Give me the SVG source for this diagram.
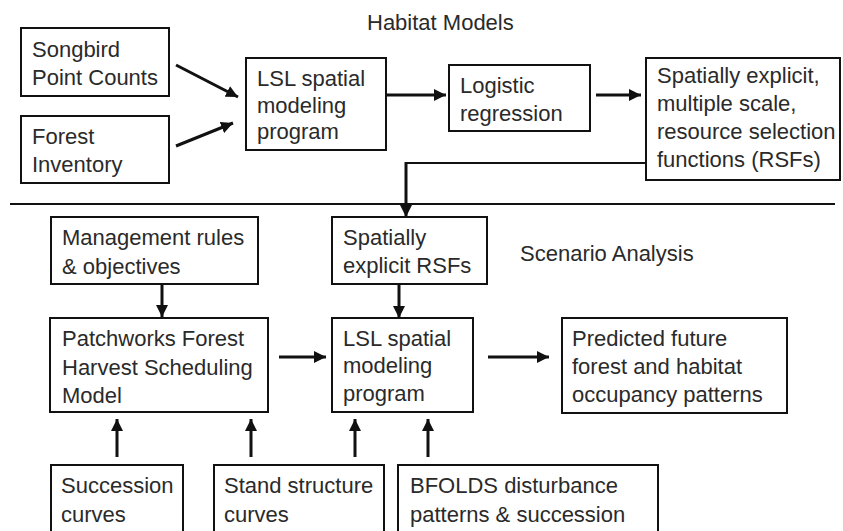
<svg xmlns="http://www.w3.org/2000/svg" width="843" height="531" viewBox="0 0 843 531">
<defs>
<style>
.box{fill:#fff;stroke:#111;stroke-width:2}
.t{font-family:"Liberation Sans",Arial,sans-serif;font-size:22px;fill:#2a2a2a}
.a{fill:none;stroke:#111;stroke-width:3;marker-end:url(#ah)}
.ln{fill:none;stroke:#111;stroke-width:1.8}
</style>
<marker id="ah" markerUnits="userSpaceOnUse" markerWidth="12" markerHeight="12" viewBox="0 0 12 12" refX="12" refY="6" orient="auto">
<path d="M0,0 L12,6 L0,12 Z" fill="#111"/>
</marker>
</defs>
<rect width="843" height="531" fill="#fff"/>
<text class="t" x="367" y="30">Habitat Models</text>
<text class="t" x="520" y="261">Scenario Analysis</text>
<line class="ln" x1="10" y1="204" x2="835" y2="204"/>
<g id="songbird"><rect class="box" x="21" y="28" width="148" height="68"/><text class="t" x="32" y="57">Songbird</text><text class="t" x="32" y="85">Point Counts</text></g>
<g id="forest"><rect class="box" x="21" y="116" width="148" height="67"/><text class="t" x="32" y="144">Forest</text><text class="t" x="32" y="172">Inventory</text></g>
<g id="lsl1"><rect class="box" x="246" y="58" width="140" height="92"/><text class="t" x="257" y="86">LSL spatial</text><text class="t" x="257" y="113">modeling</text><text class="t" x="257" y="139">program</text></g>
<g id="logistic"><rect class="box" x="449" y="65" width="141" height="66"/><text class="t" x="460" y="93">Logistic</text><text class="t" x="460" y="121">regression</text></g>
<g id="rsf"><rect class="box" x="646" y="58" width="194" height="122"/><text class="t" x="657" y="83">Spatially explicit,</text><text class="t" x="657" y="111">multiple scale,</text><text class="t" x="657" y="139">resource selection</text><text class="t" x="657" y="167">functions (RSFs)</text></g>
<g id="mgmt"><rect class="box" x="51" y="217" width="207" height="67"/><text class="t" x="62" y="245">Management rules</text><text class="t" x="62" y="274">&amp; objectives</text></g>
<g id="rsfs2"><rect class="box" x="332" y="217" width="155" height="67"/><text class="t" x="343" y="245">Spatially</text><text class="t" x="343" y="273">explicit RSFs</text></g>
<g id="patchworks"><rect class="box" x="50" y="318" width="218" height="94"/><text class="t" x="62" y="346">Patchworks Forest</text><text class="t" x="62" y="375">Harvest Scheduling</text><text class="t" x="62" y="403">Model</text></g>
<g id="lsl2"><rect class="box" x="332" y="318" width="141" height="94"/><text class="t" x="343" y="346">LSL spatial</text><text class="t" x="343" y="373">modeling</text><text class="t" x="343" y="401">program</text></g>
<g id="predicted"><rect class="box" x="562" y="318" width="225" height="95"/><text class="t" x="572" y="346">Predicted future</text><text class="t" x="572" y="374">forest and habitat</text><text class="t" x="572" y="402">occupancy patterns</text></g>
<g id="succession"><rect class="box" x="51" y="465" width="132" height="80"/><text class="t" x="61" y="493">Succession</text><text class="t" x="61" y="522">curves</text></g>
<g id="stand"><rect class="box" x="214" y="465" width="170" height="80"/><text class="t" x="224" y="493">Stand structure</text><text class="t" x="224" y="522">curves</text></g>
<g id="bfolds"><rect class="box" x="398" y="465" width="260" height="80"/><text class="t" x="410" y="493">BFOLDS disturbance</text><text class="t" x="410" y="522">patterns &amp; succession</text></g>
<g id="connectors">
<line class="a" x1="176" y1="65" x2="238" y2="97"/>
<line class="a" x1="176" y1="146" x2="233" y2="123"/>
<line class="a" x1="386" y1="95" x2="446" y2="95"/>
<line class="a" x1="596" y1="95" x2="641" y2="95"/>
<polyline class="ln" points="646,163 406,163"/>
<line class="a" x1="406" y1="162" x2="406" y2="217"/>
<line class="a" x1="162" y1="284" x2="162" y2="317"/>
<line class="a" x1="399" y1="284" x2="399" y2="318"/>
<line class="a" x1="279" y1="357" x2="326" y2="357"/>
<line class="a" x1="488" y1="357" x2="549" y2="357"/>
<line class="a" x1="117" y1="457" x2="117" y2="419"/>
<line class="a" x1="251" y1="457" x2="251" y2="419"/>
<line class="a" x1="355" y1="457" x2="355" y2="419"/>
<line class="a" x1="428" y1="457" x2="428" y2="419"/>
</g>
</svg>
